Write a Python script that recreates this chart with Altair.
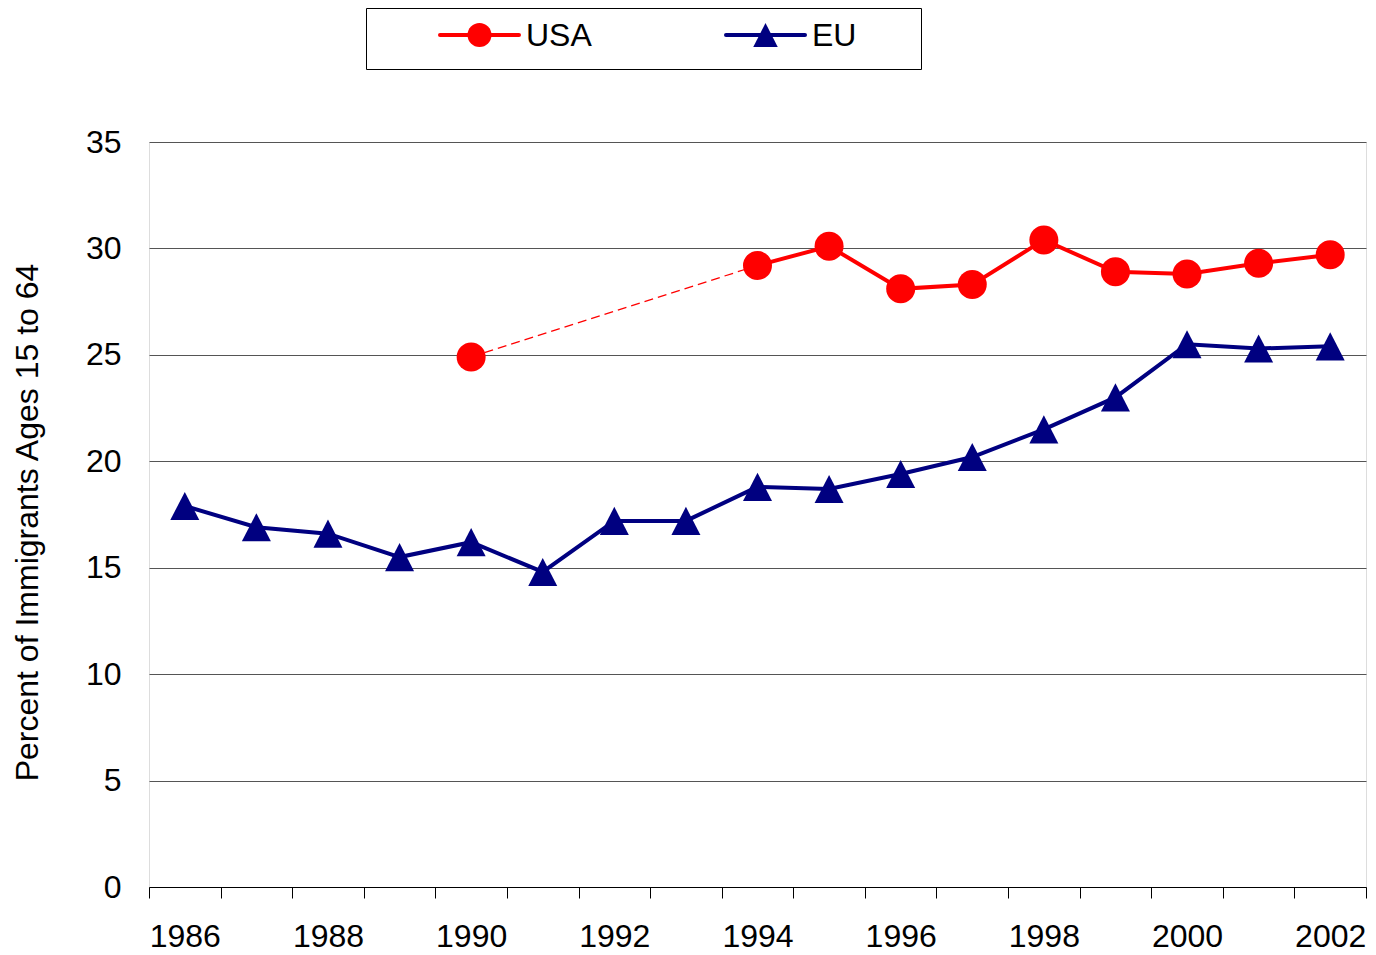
import altair as alt
import pandas as pd

years = list(range(1986, 2003))
usa = [None, None, None, None, 24.9, None, None, None, 29.2, 30.1, 28.1, 28.3, 30.4, 28.9, 28.8, 29.3, 29.7]
eu = [17.9, 16.9, 16.6, 15.5, 16.2, 14.8, 17.2, 17.2, 18.8, 18.7, 19.4, 20.2, 21.5, 23.0, 25.5, 25.3, 25.4]
series_names = ["USA", "EU"]
series_colors = ["#FF0000", "#000080"]
marker_shapes = ["circle", "M0,-0.97L1,0.97L-1,0.97Z"]
y_ticks = [0, 5, 10, 15, 20, 25, 30, 35]

rows = []
for y, u, e in zip(years, usa, eu):
    if u is not None:
        rows.append({"year": y, "series": "USA", "value": u})
    rows.append({"year": y, "series": "EU", "value": e})
df = pd.DataFrame(rows)

FONT = "Liberation Sans"

x_enc = alt.X(
    "year:O",
    scale=alt.Scale(type="band", paddingInner=0, paddingOuter=0),
    axis=alt.Axis(
        title=None, labelAngle=0, tickBand="extent", tickSize=11, tickColor="#000",
        domainColor="#000", labelColor="#000", labelFont=FONT, labelFontSize=32,
        labelPadding=23, labelOverlap=False, grid=False,
        labelExpr="datum.value % 2 == 0 ? datum.label : ''",
    ),
)
y_enc = alt.Y(
    "value:Q",
    scale=alt.Scale(domain=[0, 35], nice=False, zero=True),
    axis=alt.Axis(
        title="Percent of Immigrants Ages 15 to 64", values=y_ticks, grid=True,
        gridColor="#555", gridWidth=1, domain=False, ticks=False, labelPadding=28,
        labelColor="#000", labelFont=FONT, labelFontSize=32, titleFont=FONT,
        titleFontSize=32, titleFontWeight="normal", titleColor="#000",
        titleX=-122, titleY=380, titleAngle=270, titleAlign="center", titleBaseline="middle",
    ),
)
col = alt.Color("series:N", scale=alt.Scale(domain=series_names, range=series_colors), legend=None)

base = alt.Chart(df)

eu_line = base.transform_filter("datum.series == 'EU'").mark_line(strokeWidth=4).encode(x=x_enc, y=y_enc, color=col)
usa_line = base.transform_filter("datum.series == 'USA' && datum.year >= 1994").mark_line(strokeWidth=4).encode(x=x_enc, y=y_enc, color=col)
usa_dash = base.transform_filter("datum.series == 'USA' && datum.year <= 1994").mark_line(
    strokeWidth=1.3, strokeDash=[9, 5]).encode(x=x_enc, y=y_enc, color=col)
markers = base.mark_point(filled=True, size=841, opacity=1, strokeWidth=0).encode(
    x=x_enc, y=y_enc, color=col,
    shape=alt.Shape("series:N", scale=alt.Scale(domain=series_names, range=marker_shapes), legend=None),
)

# Legend (drawn as a boxed key above the plot)
legend_box = alt.Chart(pd.DataFrame({"a": [0]})).mark_rect(fill="white", stroke="#000", strokeWidth=1).encode(
    x=alt.value(217.5), x2=alt.value(772.5), y=alt.value(-133.5), y2=alt.value(-72.5)
)
legend_df = pd.DataFrame({"series": series_names, "color": series_colors, "shape": marker_shapes})
legend_slots = [291, 577]  # left edge of each key symbol
key_layers = []
for i, name in enumerate(series_names):
    x0 = legend_slots[i]
    sub = alt.Chart(legend_df).transform_filter(f"datum.series == '{name}'")
    key_layers.append(sub.mark_rule(strokeWidth=4, strokeCap="round").encode(
        x=alt.value(x0), x2=alt.value(x0 + 79), y=alt.value(-107), color=alt.Color("color:N", scale=None)))
    key_layers.append(sub.mark_point(filled=True, opacity=1, strokeWidth=0, size=576 if i == 0 else 600).encode(
        x=alt.value(x0 + 39.5), y=alt.value(-107), color=alt.Color("color:N", scale=None),
        shape=alt.Shape("shape:N", scale=None)))
    key_layers.append(sub.mark_text(align="left", baseline="middle", font=FONT, fontSize=32, color="#000").encode(
        x=alt.value(x0 + 86), y=alt.value(-106), text="series:N"))

chart = alt.layer(legend_box, usa_dash, eu_line, usa_line, markers, *key_layers).properties(
    width=1217, height=745,
    autosize=alt.AutoSizeParams(type="none"),
    padding={"left": 141, "top": 134, "right": 2, "bottom": 68},
).configure_view(stroke=None).configure(background="white")

chart.save("out.html", embed_options={"renderer": "svg", "actions": False})
